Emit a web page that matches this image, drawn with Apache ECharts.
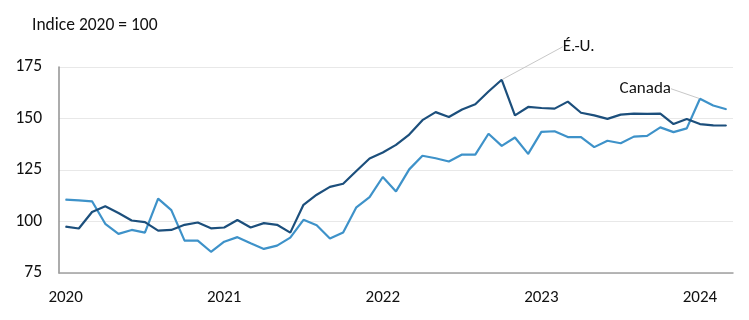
<!DOCTYPE html>
<html>
<head>
<meta charset="utf-8">
<script src="https://cdn.jsdelivr.net/npm/echarts@6/dist/echarts.min.js"></script>
<style>
html,body{margin:0;padding:0;background:#fff;}
#c{width:749px;height:320px;}
</style>
</head>
<body>
<div id="c"></div>
<script>
// Months Jan 2020 .. Mar 2024
var months = [];
for (var y = 2020; y <= 2024; y++) {
  for (var m = 1; m <= 12; m++) {
    if (y === 2024 && m > 3) break;
    months.push(y + '-' + (m < 10 ? '0' + m : m));
  }
}
var usValues = [
  97.5, 96.6, 104.6, 107.4, 104.1, 100.5, 99.7, 95.6, 95.9, 98.4,
  99.5, 96.7, 97.1, 100.7, 97.1, 99.2, 98.4, 94.6, 108.1, 113.0,
  116.8, 118.3, 124.5, 130.6, 133.5, 137.2, 142.2, 149.2, 153.1, 150.7,
  154.4, 156.9, 163.1, 168.8, 151.5, 155.6, 155.1, 154.8, 158.2, 152.8,
  151.5, 149.8, 151.9, 152.4, 152.2, 152.4, 147.3, 149.8, 147.3, 146.7,
  146.6
];
var caValues = [
  110.6, 110.3, 109.8, 98.9, 94.0, 95.9, 94.6, 111.1, 105.5, 90.7,
  90.7, 85.3, 90.2, 92.4, 89.4, 86.7, 88.3, 92.2, 100.8, 98.2,
  91.7, 94.7, 106.9, 111.8, 121.6, 114.6, 125.3, 131.9, 130.7, 129.1,
  132.5, 132.5, 142.6, 136.7, 140.8, 132.8, 143.5, 143.8, 141.0, 141.0,
  136.1, 139.2, 138.0, 141.2, 141.6, 145.7, 143.4, 145.2, 159.6, 156.3,
  154.5
];
var yTicks = [75, 100, 125, 150, 175];
var seriesNames = ['É.-U.', 'Canada'];
var labelIndex = [33, 48];
var titleText = 'Indice 2020 = 100';

var FONT = 'Carlito, Lato, sans-serif';

function buildData(vals, idx, name) {
  return vals.map(function (v, i) {
    if (i === idx) {
      return { value: v, label: { show: true, formatter: name } };
    }
    return v;
  });
}

var chart = echarts.init(document.getElementById('c'), null, { renderer: 'canvas' });
chart.setOption({
  animation: false,
  backgroundColor: '#ffffff',
  title: {
    text: titleText,
    left: 27, top: 12,
    textStyle: { fontFamily: FONT, fontSize: 17.5, fontWeight: 'normal', color: '#111' }
  },
  grid: { left: 59, right: 16, top: 67, bottom: 47 },
  xAxis: {
    type: 'category',
    data: months,
    boundaryGap: true,
    axisLine: { lineStyle: { color: '#a0a0a0', width: 1.5 } },
    axisTick: { show: false },
    axisLabel: {
      interval: function (i, v) { return v.slice(5) === '01'; },
      formatter: function (v) { return v.slice(0, 4); },
      fontFamily: FONT, fontSize: 17, color: '#111', margin: 16
    },
    splitLine: { show: false }
  },
  yAxis: {
    type: 'value',
    min: yTicks[0], max: yTicks[yTicks.length - 1], interval: 25,
    axisLine: { show: true, lineStyle: { color: '#909090', width: 1.5 } },
    axisTick: { show: false },
    axisLabel: { fontFamily: FONT, fontSize: 17.5, color: '#111', margin: 17 },
    splitLine: { lineStyle: { color: '#e8e8e8', width: 1.2 } }
  },
  series: [
    {
      name: seriesNames[0], type: 'line',
      data: buildData(usValues, labelIndex[0], seriesNames[0]),
      symbol: 'circle', symbolSize: 1, showSymbol: true,
      itemStyle: { color: '#1c4f7c' },
      lineStyle: { color: '#1c4f7c', width: 2.2 },
      z: 3,
      label: { show: false, fontFamily: FONT, fontSize: 17, color: '#111' },
      labelLine: { show: true, lineStyle: { color: '#c8c8c8', width: 1 } },
      labelLayout: function (p) {
        var cx = p.rect.x + p.rect.width / 2, cy = p.rect.y + p.rect.height / 2;
        return { x: cx + 61, y: cy - 33, align: 'left', verticalAlign: 'middle' };
      }
    },
    {
      name: seriesNames[1], type: 'line',
      data: buildData(caValues, labelIndex[1], seriesNames[1]),
      symbol: 'circle', symbolSize: 1, showSymbol: true,
      itemStyle: { color: '#3e92c9' },
      lineStyle: { color: '#3e92c9', width: 2.2 },
      z: 2,
      label: { show: false, fontFamily: FONT, fontSize: 17, color: '#111' },
      labelLine: { show: true, lineStyle: { color: '#c8c8c8', width: 1 } },
      labelLayout: function (p) {
        var cx = p.rect.x + p.rect.width / 2, cy = p.rect.y + p.rect.height / 2;
        return { x: cx - 29, y: cy - 10, align: 'right', verticalAlign: 'middle' };
      }
    }
  ]
});
</script>
</body>
</html>
